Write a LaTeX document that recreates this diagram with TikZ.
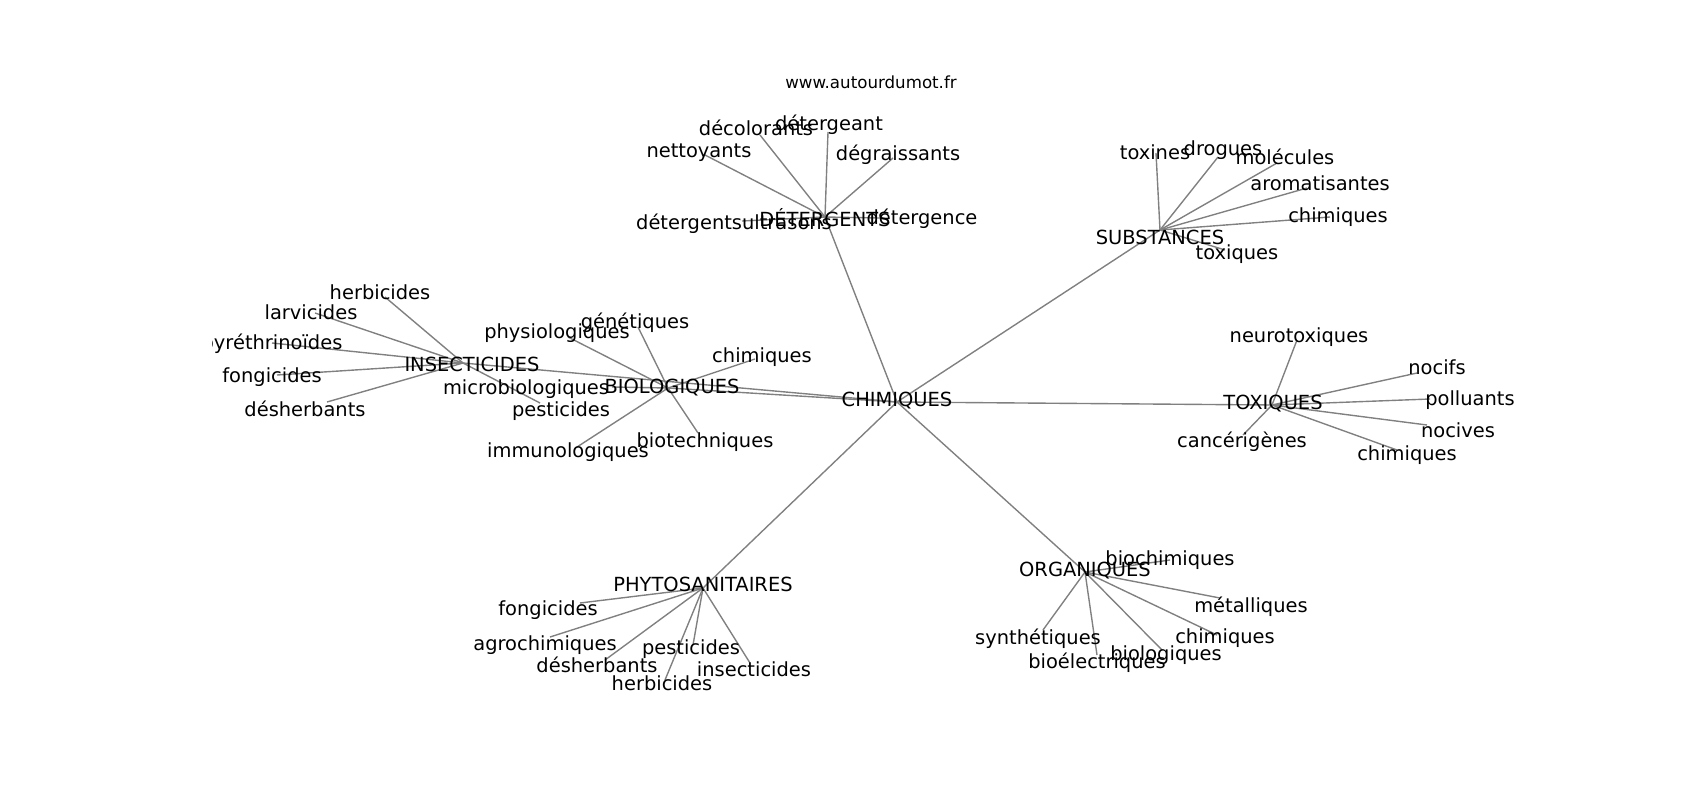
\documentclass[tikz,border=0pt]{standalone}
\usepackage{fontspec}
\setmainfont{DejaVu Sans}
\begin{document}
\begin{tikzpicture}[x=0.72pt,y=-0.72pt,
  lbl/.style={inner sep=0pt,outer sep=0pt,font=\fontsize{14}{16}\selectfont,text height=0.76em,text depth=0.24em,anchor=center,yshift=-2.9pt},
  edge/.style={draw=black!50,line width=1pt}]
\useasboundingbox (0,0) rectangle (1700,800);
\node[inner sep=0pt,anchor=base,font=\fontsize{12}{14}\selectfont] (title) at (871,88) {www.autourdumot.fr};
\begin{scope}
\clip (212.5,96) rectangle (1530,712);
% hub positions
\coordinate (CHI) at (897,402);
\coordinate (DET) at (825,217);
\coordinate (SUB) at (1160,230);
\coordinate (TOX) at (1272,405);
\coordinate (BIO) at (668,388);
\coordinate (INS) at (463,363);
\coordinate (PHY) at (703,588);
\coordinate (ORG) at (1085,572);
% leaf positions
\coordinate (d1) at (705,155);
\coordinate (d2) at (760,135);
\coordinate (d3) at (828,132);
\coordinate (d4) at (893,158);
\coordinate (d5) at (742,221);
\coordinate (d6) at (880,218);
\coordinate (s1) at (1156,153);
\coordinate (s2) at (1218,157);
\coordinate (s3) at (1277,163);
\coordinate (s4) at (1307,188);
\coordinate (s5) at (1330,217);
\coordinate (s6) at (1225,250);
\coordinate (t1) at (1297,340);
\coordinate (t2) at (1417,373);
\coordinate (t3) at (1430,399);
\coordinate (t4) at (1427,425);
\coordinate (t5) at (1397,450);
\coordinate (t6) at (1243,435);
\coordinate (b1) at (638,327);
\coordinate (b2) at (568,337);
\coordinate (b3) at (755,359);
\coordinate (b4) at (612,387);
\coordinate (b5) at (577,447);
\coordinate (b6) at (698,433);
\coordinate (i1) at (385,297);
\coordinate (i2) at (315,313);
\coordinate (i3) at (272,343);
\coordinate (i4) at (277,375);
\coordinate (i5) at (327,402);
\coordinate (i6) at (540,403);
\coordinate (p1) at (580,603);
\coordinate (p2) at (550,637);
\coordinate (p3) at (605,660);
\coordinate (p4) at (665,680);
\coordinate (p5) at (693,645);
\coordinate (p6) at (750,663);
\coordinate (o1) at (1170,560);
\coordinate (o2) at (1220,598);
\coordinate (o3) at (1217,635);
\coordinate (o4) at (1162,650);
\coordinate (o5) at (1097,655);
\coordinate (o6) at (1043,630);
% edges
\foreach \h in {DET,SUB,TOX,BIO,INS,PHY,ORG} \draw[edge] (CHI) -- (\h);
\foreach \i in {1,...,6} {
  \draw[edge] (DET) -- (d\i);
  \draw[edge] (SUB) -- (s\i);
  \draw[edge] (TOX) -- (t\i);
  \draw[edge] (BIO) -- (b\i);
  \draw[edge] (INS) -- (i\i);
  \draw[edge] (PHY) -- (p\i);
  \draw[edge] (ORG) -- (o\i);
}
% labels
\node[lbl] (lCHI) at (897,399) {CHIMIQUES};
\node[lbl] (lDET) at (825,219) {DÉTERGENTS};
\node[lbl] (lSUB) at (1160,237) {SUBSTANCES};
\node[lbl] (lTOX) at (1273,402) {TOXIQUES};
\node[lbl] (lBIO) at (672,386) {BIOLOGIQUES};
\node[lbl] (lINS) at (472,364) {INSECTICIDES};
\node[lbl] (lPHY) at (703,584) {PHYTOSANITAIRES};
\node[lbl] (lORG) at (1085,569) {ORGANIQUES};
\node[lbl] (ld1) at (699,150) {nettoyants};
\node[lbl] (ld2) at (756,128) {décolorants};
\node[lbl] (ld3) at (829,123) {détergeant};
\node[lbl] (ld4) at (898,153) {dégraissants};
\node[lbl] (ld5) at (734,222) {détergentsultrasons};
\node[lbl] (ld6) at (922,217) {détergence};
\node[lbl] (ls1) at (1155,152) {toxines};
\node[lbl] (ls2) at (1223,148) {drogues};
\node[lbl] (ls3) at (1285,157) {molécules};
\node[lbl] (ls4) at (1320,183) {aromatisantes};
\node[lbl] (ls5) at (1338,215) {chimiques};
\node[lbl] (ls6) at (1237,252) {toxiques};
\node[lbl] (lt1) at (1299,335) {neurotoxiques};
\node[lbl] (lt2) at (1437,367) {nocifs};
\node[lbl] (lt3) at (1470,398) {polluants};
\node[lbl] (lt4) at (1458,430) {nocives};
\node[lbl] (lt5) at (1407,453) {chimiques};
\node[lbl] (lt6) at (1242,440) {cancérigènes};
\node[lbl] (lb1) at (635,321) {génétiques};
\node[lbl] (lb2) at (557,331) {physiologiques};
\node[lbl] (lb3) at (762,355) {chimiques};
\node[lbl] (lb4) at (526,387) {microbiologiques};
\node[lbl] (lb5) at (568,450) {immunologiques};
\node[lbl] (lb6) at (705,440) {biotechniques};
\node[lbl] (li1) at (380,292) {herbicides};
\node[lbl] (li2) at (311,312) {larvicides};
\node[lbl] (li3) at (272,342) {pyréthrinoïdes};
\node[lbl] (li4) at (272,375) {fongicides};
\node[lbl] (li5) at (305,409) {désherbants};
\node[lbl] (li6) at (561,409) {pesticides};
\node[lbl] (lp1) at (548,608) {fongicides};
\node[lbl] (lp2) at (545,643) {agrochimiques};
\node[lbl] (lp3) at (597,665) {désherbants};
\node[lbl] (lp4) at (662,683) {herbicides};
\node[lbl] (lp5) at (691,647) {pesticides};
\node[lbl] (lp6) at (754,669) {insecticides};
\node[lbl] (lo1) at (1170,558) {biochimiques};
\node[lbl] (lo2) at (1251,605) {métalliques};
\node[lbl] (lo3) at (1225,636) {chimiques};
\node[lbl] (lo4) at (1166,653) {biologiques};
\node[lbl] (lo5) at (1097,661) {bioélectriques};
\node[lbl] (lo6) at (1038,637) {synthétiques};
\end{scope}
\end{tikzpicture}
\end{document}
